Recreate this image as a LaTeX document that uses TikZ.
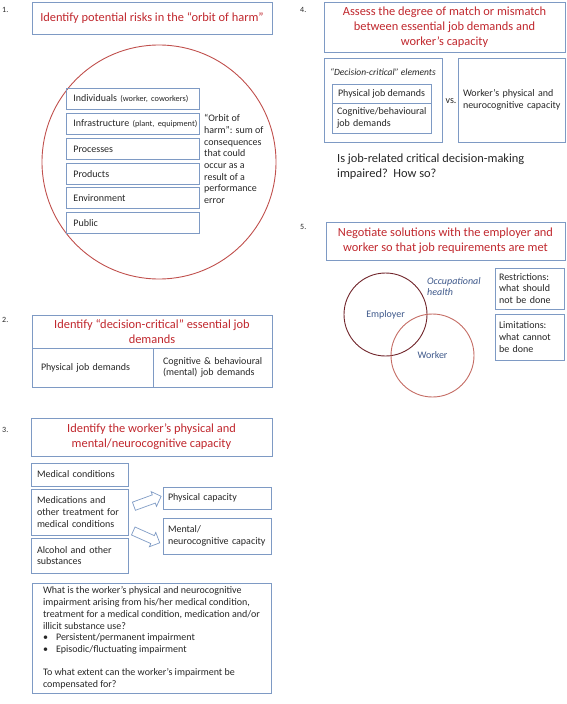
\documentclass[tikz,border=0pt]{standalone}
\usepackage{fontspec}
\setmainfont{Carlito}
\usetikzlibrary{shapes.arrows}

\definecolor{boxblue}{RGB}{126,154,196}
\definecolor{titlered}{RGB}{192,39,45}
\definecolor{harmred}{RGB}{192,80,77}
\definecolor{emprown}{RGB}{112,36,42}
\definecolor{wrkred}{RGB}{196,108,100}
\definecolor{vennblue}{RGB}{62,88,138}
\definecolor{textgrey}{RGB}{38,38,38}

\newcommand{\paren}[1]{{\fontsize{8.3}{9}\selectfont #1}}

\begin{document}
\begin{tikzpicture}[x=1pt,y=-1pt,
  box/.style={draw=boxblue,line width=0.8pt,inner ysep=0pt},
  title/.style={box,text=titlered,font=\fontsize{12.4}{15}\selectfont,align=center},
  item/.style={box,text=textgrey,font=\fontsize{10}{11.7}\selectfont,align=left},
  note/.style={text=textgrey,font=\fontsize{10}{11.7}\selectfont,align=left,inner sep=0pt},
  num/.style={text=textgrey,font=\fontsize{8}{9}\selectfont,inner sep=0pt,anchor=west},
  hollow/.style={single arrow,draw=boxblue,line width=0.7pt,inner sep=4pt,
    single arrow head extend=3.5pt,minimum height=29pt}]

  \useasboundingbox (0,0) rectangle (567,704);

  % step 1
  \node[num] (n1) at (2,10) {1.};
  \node[title,minimum width=240pt,minimum height=32pt] (T1) at (152,18)
    {Identify potential risks in the “orbit of harm”};
  \node[draw=harmred,circle,line width=0.9pt,minimum size=234pt] (orbit) at (159,162) {};
  \node[item,anchor=north west,minimum width=133pt,minimum height=21pt,inner xsep=7pt,text width=119pt] (ind) at (66,88)
    {Individuals \paren{(worker, coworkers)}};
  \node[item,anchor=north west,minimum width=133pt,minimum height=21pt,inner xsep=7pt,text width=119pt] (inf) at (66,113)
    {\mbox{Infrastructure \paren{(plant, equipment)}}};
  \node[item,anchor=north west,minimum width=133pt,minimum height=21pt,inner xsep=7pt,text width=119pt] (proc) at (66,138) {Processes};
  \node[item,anchor=north west,minimum width=133pt,minimum height=21pt,inner xsep=7pt,text width=119pt] (prod) at (66,163) {Products};
  \node[item,anchor=north west,minimum width=133pt,minimum height=21pt,inner xsep=7pt,text width=119pt] (env) at (66,187) {Environment};
  \node[item,anchor=north west,minimum width=133pt,minimum height=21pt,inner xsep=7pt,text width=119pt] (pub) at (66,212) {Public};
  \node[note,anchor=west] (harm) at (204,159)
    {“Orbit of\\harm”: sum of\\consequences\\that could\\occur as a\\result of a\\performance\\error};

  % step 2
  \node[num] (n2) at (2,320) {2.};
  \node[title,minimum width=240pt,minimum height=33pt] (T2) at (152,331.5)
    {Identify “decision-critical” essential job\\demands};
  \node[item,minimum width=121pt,minimum height=39pt,inner xsep=9pt,text width=103pt] (phys2) at (92.5,367.5)
    {Physical job demands};
  \node[item,minimum width=119pt,minimum height=39pt,inner xsep=10pt,text width=99pt] (cog2) at (212.5,367.5)
    {\mbox{Cognitive \& behavioural}\\(mental) job demands};

  % step 3
  \node[num] (n3) at (2,430) {3.};
  \node[title,minimum width=241pt,minimum height=38pt] (T3) at (151.5,437)
    {Identify the worker’s physical and\\mental/neurocognitive capacity};
  \node[item,minimum width=97pt,minimum height=23pt,inner xsep=6pt,text width=85pt] (med) at (79.5,474.5)
    {Medical conditions};
  \node[item,minimum width=97pt,minimum height=46pt,inner xsep=6pt,text width=85pt] (meds) at (79.5,512)
    {Medications and\\\mbox{other treatment for}\\\mbox{medical conditions}};
  \node[item,minimum width=97pt,minimum height=35pt,inner xsep=6pt,text width=85pt] (alc) at (79.5,555.5)
    {Alcohol and other\\substances};
  \node[item,minimum width=108pt,minimum height=22pt,inner xsep=5pt,text width=98pt] (pcap) at (217,498)
    {Physical capacity};
  \node[item,minimum width=108pt,minimum height=36pt,inner xsep=5pt,text width=98pt] (mcap) at (217,536)
    {Mental/\\\mbox{neurocognitive capacity}};
  \node[hollow,rotate=20] (a1) at (145.5,502) {};
  \node[hollow,rotate=-24] (a2) at (144.5,536) {};
  \node[item,minimum width=239pt,minimum height=110pt] (imp) at (151.5,638)
    {What is the worker’s physical and neurocognitive\\
     impairment arising from his/her medical condition,\\
     treatment for a medical condition, medication and/or\\
     illicit substance use?\\
     \makebox[13pt][l]{•}Persistent/permanent impairment\\
     \makebox[13pt][l]{•}Episodic/fluctuating impairment\\[11.7pt]
     To what extent can the worker’s impairment be\\
     compensated for?};

  % step 4
  \node[num] (n4) at (300,10) {4.};
  \node[title,minimum width=241pt,minimum height=50pt] (T4) at (444.5,27)
    {Assess the degree of match or mismatch\\between essential job demands and\\worker’s capacity};
  \node[box,minimum width=118pt,minimum height=84pt] (dc) at (383,100) {};
  \node[note,font=\fontsize{9.5}{11}\selectfont\itshape] (dcl) at (383,72) {“Decision-critical” elements};
  \node[item,minimum width=99pt,minimum height=19pt,align=center] (phys4) at (381.5,93.5)
    {Physical job demands};
  \node[item,minimum width=99pt,minimum height=30pt,inner xsep=5pt,text width=89pt] (cog4) at (381.5,118)
    {\mbox{Cognitive/behavioural}\\job demands};
  \node[note] (vs) at (451,101) {vs.};
  \node[item,minimum width=107pt,minimum height=84pt,inner xsep=5pt,text width=97pt] (wcap) at (511.5,100)
    {Worker’s physical and\\\mbox{neurocognitive capacity}};
  \node[note,anchor=west,font=\fontsize{12.4}{15}\selectfont] (q4) at (337,166.5)
    {Is job-related critical decision-making\\impaired?\ \ How so?};

  % step 5
  \node[num] (n5) at (300,227) {5.};
  \node[title,minimum width=239pt,minimum height=38pt] (T5) at (445.5,241)
    {Negotiate solutions with the employer and\\worker so that job requirements are met};
  \node[draw=emprown,circle,line width=0.9pt,minimum size=83pt,text=vennblue,font=\fontsize{10}{11.7}\selectfont] (emp) at (385.5,314.5) {Employer};
  \node[draw=wrkred,circle,line width=0.9pt,minimum size=83pt,text=vennblue,font=\fontsize{10}{11.7}\selectfont] (wrk) at (432.5,355.5) {Worker};
  \node[note,anchor=west,text=vennblue,font=\fontsize{10}{11.5}\selectfont\itshape] (oh) at (427,286.5)
    {Occupational\\health};
  \node[item,minimum width=69pt,minimum height=41pt,inner xsep=4pt,text width=61pt] (restr) at (529.5,288.5)
    {Restrictions:\\what should\\not be done};
  \node[item,minimum width=69pt,minimum height=46pt,inner xsep=4pt,text width=61pt] (limit) at (529.5,337)
    {Limitations:\\what cannot\\be done};

\end{tikzpicture}
\end{document}
